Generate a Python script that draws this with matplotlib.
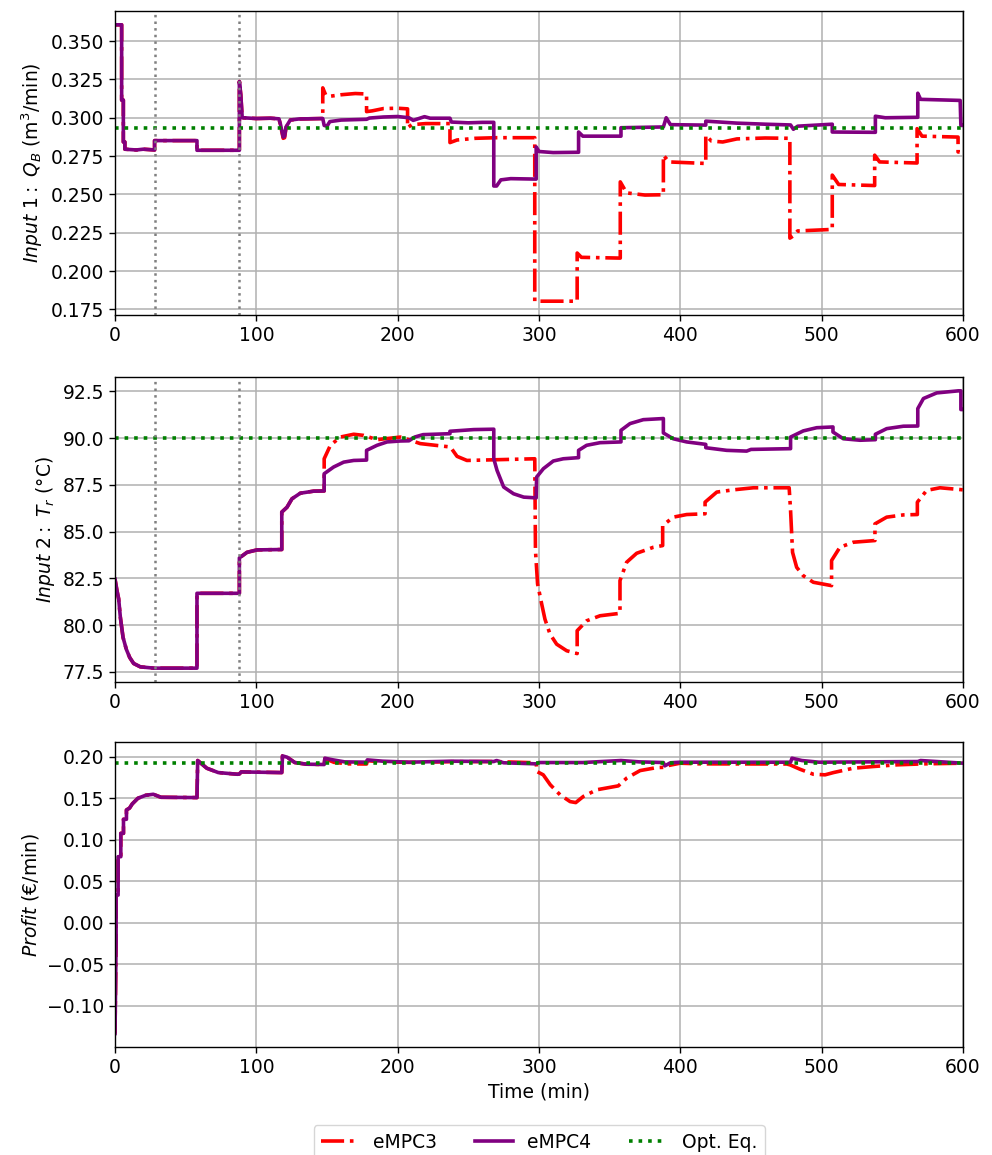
import matplotlib
matplotlib.use("Agg")
import matplotlib.pyplot as plt

plt.rcParams['font.size'] = 13.5

# ---- input 1: Q_B (m3/min) ----
q_t_mpc4 = [0, 4.7, 4.7, 5.9, 5.9, 7.0, 7.0, 15, 20, 28, 28, 58, 58, 88, 88, 89, 90, 100, 110, 116,
            117, 119, 120, 121, 124, 130, 147, 148, 150, 152, 160, 178, 180, 190, 200, 208, 211, 215,
            219, 223, 237, 238, 250, 260, 268, 268, 270, 273, 280, 298, 298, 300, 310, 328, 328, 331,
            358, 358, 388, 390, 393, 418, 418, 440, 460, 478, 480, 483, 507.5, 507.5, 538, 538, 545,
            568, 568, 570, 598, 598.5, 600]
q_v_mpc4 = [0.3606, 0.3606, 0.3115, 0.3115, 0.2842, 0.2842, 0.2795, 0.2790, 0.2795, 0.2790, 0.2851,
            0.2851, 0.2788, 0.2788, 0.3236, 0.3150, 0.3000, 0.2995, 0.2997, 0.2993, 0.2960, 0.2874,
            0.2880, 0.2940, 0.2985, 0.2992, 0.2995, 0.2950, 0.2945, 0.2975, 0.2985, 0.2990, 0.2998,
            0.3005, 0.3008, 0.3000, 0.2983, 0.2995, 0.3007, 0.2997, 0.2997, 0.2972, 0.2967, 0.2970,
            0.2970, 0.2555, 0.2555, 0.2595, 0.2603, 0.2600, 0.2810, 0.2780, 0.2773, 0.2775, 0.2907,
            0.2880, 0.2880, 0.2935, 0.2940, 0.3000, 0.2955, 0.2952, 0.2978, 0.2965, 0.2958, 0.2953,
            0.2925, 0.2945, 0.2958, 0.2907, 0.2905, 0.3010, 0.3000, 0.3003, 0.3160, 0.3120, 0.3113,
            0.2950, 0.2950]
q_t_mpc3 = [0, 4.7, 4.7, 5.9, 5.9, 7.0, 7.0, 15, 20, 28, 28, 58, 58, 88, 88, 89, 90, 100, 110, 116,
            117, 119, 120, 121, 124, 130, 147, 147, 149, 152, 160, 170, 178, 178, 182, 190, 200, 207,
            207, 210, 220, 237, 237, 242, 255, 270, 297, 297, 327, 327, 330, 357.5, 357.5, 362, 375,
            388, 388, 392, 418, 418, 422, 430, 440, 460, 477.5, 477.5, 480, 483, 507.5, 507.5, 512,
            537.5, 537.5, 541, 567.5, 567.5, 571, 596.5, 596.5, 600]
q_v_mpc3 = [0.3606, 0.3606, 0.3115, 0.3115, 0.2842, 0.2842, 0.2795, 0.2790, 0.2795, 0.2790, 0.2851,
            0.2851, 0.2788, 0.2788, 0.3236, 0.3150, 0.3000, 0.2995, 0.2997, 0.2993, 0.2955, 0.2866,
            0.2870, 0.2935, 0.2985, 0.2992, 0.2995, 0.3195, 0.3150, 0.3140, 0.3150, 0.3158, 0.3155,
            0.3040, 0.3045, 0.3060, 0.3062, 0.3058, 0.2935, 0.2955, 0.2962, 0.2962, 0.2838, 0.2855,
            0.2866, 0.2870, 0.2870, 0.1804, 0.1804, 0.2118, 0.2090, 0.2085, 0.2582, 0.2510, 0.2496,
            0.2498, 0.2756, 0.2712, 0.2702, 0.2885, 0.2848, 0.2842, 0.2862, 0.2868, 0.2866, 0.2215,
            0.2230, 0.2262, 0.2272, 0.2626, 0.2565, 0.2558, 0.2756, 0.2712, 0.2705, 0.2929, 0.2880,
            0.2874, 0.2777, 0.2777]
q_opt = 0.2935

# ---- input 2: T_r (degC) ----
tr_t_mpc4 = [0, 1.4, 2.6, 3.8, 5.7, 8.0, 10.4, 13.2, 17.9, 27.4, 58, 58, 88, 88, 93.4, 100.5, 118, 118,
             121.7, 125.2, 131.1, 140.6, 148, 148, 154.7, 161.8, 168.9, 178, 178, 185.4, 192.5, 201.9,
             208, 212, 218, 237, 237, 253.8, 268, 268, 270.3, 275, 282, 289.2, 298, 298.3, 303.1,
             310.1, 317.2, 328, 328, 333.7, 343.2, 358, 358, 364.4, 373.8, 388, 388, 395, 404.5, 418,
             418, 432.8, 446.9, 450, 478, 478, 487, 496.5, 508, 508, 515.3, 527.1, 538, 538, 546,
             557.8, 568, 568, 572, 581.4, 596.7, 598.5, 598.5, 600]
tr_v_mpc4 = [82.46, 81.84, 81.40, 80.41, 79.34, 78.71, 78.27, 77.95, 77.77, 77.70, 77.70, 81.70, 81.70,
             83.59, 83.89, 84.02, 84.04, 86.04, 86.30, 86.75, 87.05, 87.16, 87.17, 88.09, 88.45, 88.71,
             88.80, 88.82, 89.34, 89.61, 89.79, 89.84, 89.85, 90.05, 90.18, 90.23, 90.36, 90.45, 90.47,
             88.89, 88.27, 87.38, 87.02, 86.84, 86.80, 87.91, 88.36, 88.77, 88.89, 88.95, 89.34, 89.61,
             89.75, 89.79, 90.41, 90.77, 90.98, 91.04, 90.27, 89.96, 89.79, 89.66, 89.48, 89.34, 89.30,
             89.39, 89.43, 90.05, 90.38, 90.55, 90.59, 90.32, 89.96, 89.88, 89.91, 90.20, 90.50, 90.63,
             90.64, 91.57, 92.11, 92.41, 92.52, 92.52, 91.52, 91.52]
tr_t_mpc3 = [0, 1.4, 2.6, 3.8, 5.7, 8.0, 10.4, 13.2, 17.9, 27.4, 58, 58, 88, 88, 93.4, 100.5, 118, 118,
             121.7, 125.2, 131.1, 140.6, 148, 148, 152.4, 159.4, 168.9, 175.9, 185.4, 201.9, 209, 216,
             237.3, 242, 249, 297, 297.5, 299, 301.9, 304.2, 307.8, 312.5, 319.6, 327, 327, 333.7,
             343.2, 357.3, 357.3, 362, 369.1, 380.9, 387.5, 387.5, 395, 404.5, 417.5, 417.5, 425.8,
             437.5, 451.7, 477, 478, 479.4, 482.3, 487, 494.1, 507, 507, 512.9, 522.4, 537.7, 537.7,
             546, 557.8, 567.7, 567.7, 574.3, 583.7, 600]
tr_v_mpc3 = [82.46, 81.84, 81.40, 80.41, 79.34, 78.71, 78.27, 77.95, 77.77, 77.70, 77.70, 81.70, 81.70,
             83.59, 83.89, 84.02, 84.04, 86.04, 86.30, 86.75, 87.05, 87.16, 87.17, 88.89, 89.61, 90.05,
             90.20, 90.14, 89.91, 90.05, 89.88, 89.70, 89.52, 89.02, 88.80, 88.89, 83.98, 82.20, 81.13,
             80.32, 79.52, 78.98, 78.63, 78.48, 79.70, 80.23, 80.50, 80.63, 82.38, 83.36, 83.84, 84.16,
             84.25, 85.32, 85.77, 85.91, 85.95, 86.57, 87.11, 87.23, 87.34, 87.34, 86.13, 83.89, 83.09,
             82.64, 82.29, 82.11, 83.45, 84.16, 84.43, 84.52, 85.41, 85.77, 85.89, 85.91, 86.57, 87.20,
             87.34, 87.23]
tr_opt = 90.0

# ---- profit (EUR/min) ----
p_t_mpc4 = [0, 0.8, 0.8, 2.2, 2.2, 4.1, 4.1, 6.0, 6.0, 8.1, 8.1, 10.3, 12.2, 16.2, 21.7, 27.1, 32.5, 58,
            58.5, 65, 73.1, 86.6, 88, 89.3, 118, 118.5, 121.8, 127.2, 135.4, 148, 148.5, 154.3, 162.4,
            178, 178.5, 189.5, 208, 238, 268, 270, 275, 298, 300, 331, 358, 371, 388, 389, 393, 400,
            478, 479, 486, 498, 568, 570, 600]
p_v_mpc4 = [-0.1333, -0.0209, 0.0333, 0.0333, 0.0795, 0.0795, 0.1076, 0.1076, 0.1245, 0.1245, 0.1357,
            0.1380, 0.1430, 0.1498, 0.1534, 0.1546, 0.1510, 0.1506, 0.1952, 0.1859, 0.1807, 0.1787,
            0.1790, 0.1815, 0.1807, 0.2008, 0.1992, 0.1928, 0.1908, 0.1904, 0.1980, 0.1960, 0.1936,
            0.1932, 0.1960, 0.1944, 0.1932, 0.1944, 0.1940, 0.1952, 0.1925, 0.1912, 0.1928, 0.1928,
            0.1952, 0.1936, 0.1928, 0.1888, 0.1925, 0.1932, 0.1932, 0.1980, 0.1952, 0.1932, 0.1940,
            0.1952, 0.1920]
p_t_mpc3 = [0, 0.8, 0.8, 2.2, 2.2, 4.1, 4.1, 6.0, 6.0, 8.1, 8.1, 10.3, 12.2, 16.2, 21.7, 27.1, 32.5, 58,
            58.5, 65, 73.1, 86.6, 88, 89.3, 118, 118.5, 121.8, 127.2, 135.4, 148, 148.5, 155, 165, 178,
            178.5, 190, 208, 238, 268, 298, 298.5, 303, 308, 315, 322, 326, 331.4, 340.8, 356.1, 362,
            371.5, 383.3, 388, 390.4, 399.8, 414, 475.3, 477.6, 484.7, 494.1, 502.4, 508.3, 522.4,
            536.6, 553.1, 572, 600]
p_v_mpc3 = [-0.1333, -0.0209, 0.0333, 0.0333, 0.0795, 0.0795, 0.1076, 0.1076, 0.1245, 0.1245, 0.1357,
            0.1380, 0.1430, 0.1498, 0.1534, 0.1546, 0.1510, 0.1506, 0.1952, 0.1859, 0.1807, 0.1787,
            0.1790, 0.1815, 0.1807, 0.2008, 0.1992, 0.1928, 0.1908, 0.1904, 0.1975, 0.1930, 0.1912,
            0.1910, 0.1950, 0.1935, 0.1930, 0.1938, 0.1940, 0.1925, 0.1820, 0.1780, 0.1660, 0.1538,
            0.1458, 0.1446, 0.1520, 0.1600, 0.1647, 0.1740, 0.1831, 0.1867, 0.1870, 0.1888, 0.1920,
            0.1912, 0.1910, 0.1900, 0.1847, 0.1787, 0.1780, 0.1807, 0.1860, 0.1880, 0.1900, 0.1912,
            0.1920]
p_opt = 0.1927

event_times = [28, 88]
xticks = [0, 100, 200, 300, 400, 500, 600]

fig = plt.figure(figsize=(9.92, 11.55), dpi=100)
left, width = 115 / 992, 848 / 992
ax1 = fig.add_axes([left, 1 - 315 / 1155, width, 304 / 1155])
ax2 = fig.add_axes([left, 1 - 682 / 1155, width, 305 / 1155])
ax3 = fig.add_axes([left, 1 - 1047 / 1155, width, 305 / 1155])

lw = 2.6
panels = [
    (ax1, q_t_mpc3, q_v_mpc3, q_t_mpc4, q_v_mpc4, q_opt, (0.1714, 0.3696), r'$Input\ 1:\ Q_B$ (m$^3$/min)', True),
    (ax2, tr_t_mpc3, tr_v_mpc3, tr_t_mpc4, tr_v_mpc4, tr_opt, (76.96, 93.26), r'$Input\ 2:\ T_r$ (°C)', True),
    (ax3, p_t_mpc3, p_v_mpc3, p_t_mpc4, p_v_mpc4, p_opt, (-0.1495, 0.2175), r'$Profit$ (€/min)', False),
]
for ax, t3, v3, t4, v4, opt, ylim, ylabel, show_events in panels:
    ax.plot(t3, v3, color='red', linestyle='-.', linewidth=lw, label='eMPC3')
    ax.plot(t4, v4, color='purple', linestyle='-', linewidth=lw, label='eMPC4')
    ax.axhline(opt, color='green', linestyle=':', linewidth=lw, label='Opt. Eq.')
    if show_events:
        for te in event_times:
            ax.axvline(te, color='gray', linestyle=':', linewidth=1.8)
    ax.set_xlim(0, 600)
    ax.set_ylim(*ylim)
    ax.set_xticks(xticks)
    ax.set_ylabel(ylabel)
    ax.grid(True, color='#b0b0b0', linewidth=1.1)
    ax.tick_params(length=4.5, width=1.0)
    for sp in ax.spines.values():
        sp.set_linewidth(1.0)

ax3.set_xlabel('Time (min)')

handles, labels = ax3.get_legend_handles_labels()
fig.legend(handles, labels, loc='upper center', ncol=3, bbox_to_anchor=(539 / 992, 1 - 1125 / 1155),
           bbox_transform=fig.transFigure, borderaxespad=0)

fig.savefig('out.png', dpi=100)
